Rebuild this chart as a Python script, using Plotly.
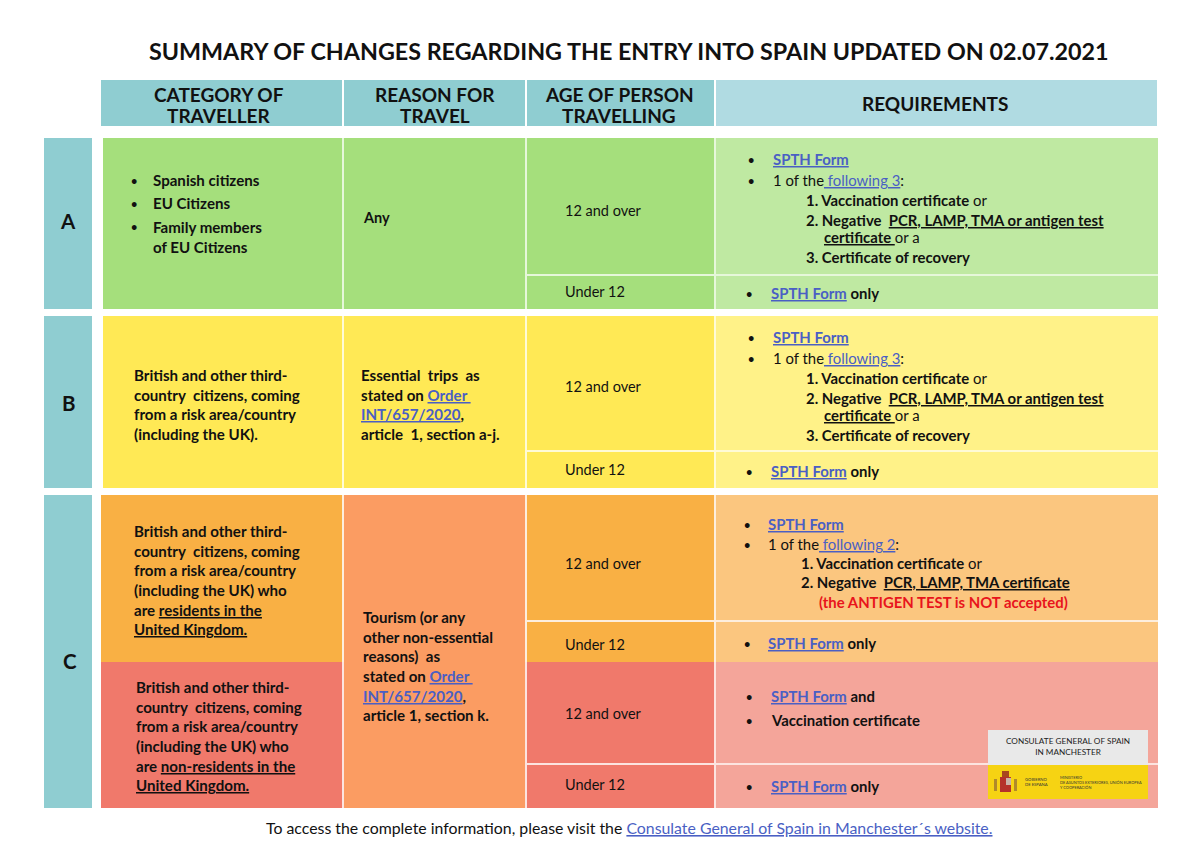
import plotly.graph_objects as go

# text of the sheet
TITLE = "SUMMARY OF CHANGES REGARDING THE ENTRY INTO SPAIN UPDATED ON 02.07.2021"
HEADERS = [["CATEGORY OF", "TRAVELLER"], ["REASON FOR", "TRAVEL"], ["AGE OF PERSON", "TRAVELLING"], ["REQUIREMENTS"]]
GROUPS = ["A", "B", "C"]
AGES = ["12 and over", "Under 12"]
A_WHO = ["Spanish citizens", "EU Citizens", "Family members", "of EU Citizens"]
B_WHO = ["British and other third-", "country  citizens, coming", "from a risk area/country", "(including the UK)."]
C1_WHO = ["British and other third-", "country  citizens, coming", "from a risk area/country", "(including the UK) who",
          "are <u>residents in the</u>", "<u>United Kingdom.</u>"]
C2_WHO = ["British and other third-", "country  citizens, coming", "from a risk area/country", "(including the UK) who",
          "are <u>non-residents in the</u>", "<u>United Kingdom.</u>"]
LINK = "#4a5fc4"
B_WHY = ["Essential  trips  as", "stated on <span style='color:%s'><u>Order </u></span>" % LINK,
         "<span style='color:%s'><u>INT/657/2020</u></span>," % LINK, "article  1, section a-j."]
C_WHY = ["Tourism (or any", "other non-essential", "reasons)  as", "stated on <span style='color:%s'><u>Order </u></span>" % LINK,
         "<span style='color:%s'><u>INT/657/2020</u></span>," % LINK, "article 1, section k."]
FORM = "<span style='color:%s'><u><b>SPTH Form</b></u></span>" % LINK
FORM_ONLY = FORM + " <b>only</b>"
OF_3 = "1 of the<span style='color:%s'><u> following 3</u></span>:" % LINK
OF_2 = "1 of the<span style='color:%s'><u> following 2</u></span>:" % LINK
VACC = "<b>1. Vaccination certificate</b> or"
NEG = "<b>2. Negative  <u>PCR, LAMP, TMA or antigen test</u></b>"
NEG2 = "<b><u>certificate </u></b>or a"
RECOV = "<b>3. Certificate of recovery</b>"
NEG_C = "<b>2. Negative  <u>PCR, LAMP, TMA certificate</u></b>"
ANTIGEN = "<b>(the ANTIGEN TEST is NOT accepted)</b>"
FOOT = "To access the complete information, please visit the "
FOOT_LINK = "Consulate General of Spain in Manchester´s website."

# colours
TEAL = "#8fcdd1"
TEAL_LIGHT = "#b0dbe2"
GREEN, GREEN_L, GREEN_T = "#a5df7c", "#bfe9a2", "#e6f7da"
YELLOW, YELLOW_L, YELLOW_T = "#ffe955", "#fff288", "#fffbd6"
ORANGE, ORANGE_L, ORANGE_T = "#f9b044", "#fbc67f", "#fdeedd"
REASON = "#fb9c62"
RED, RED_L, RED_T = "#f0796b", "#f4a59a", "#fce4e0"
FONT = "Lato"

fig = go.Figure()


def box(x0, y0, x1, y1, color):
    fig.add_shape(type="rect", x0=x0, y0=y0, x1=x1, y1=y1, fillcolor=color, line_width=0, layer="above")


def put(x, y, text, size=15.1, bold=True, color="#111111", anchor="left"):
    if bold:
        text = "<b>%s</b>" % text
    fig.add_annotation(x=x, y=y - 0.8, text=text, showarrow=False, xanchor=anchor, yanchor="middle",
                       align="center" if anchor == "center" else "left",
                       font=dict(family=FONT, size=size, color=color), borderpad=0, borderwidth=0)


def block(x, y, lines, step, size=15.1, bold=True):
    for i, line in enumerate(lines):
        put(x, y + i * step, line, size=size, bold=bold)


def bullet(x, y):
    put(x, y, "•", size=11, bold=True, anchor="center")


def req(x, y, text, size=14.9, color="#111111"):
    put(x, y, text, size=size, bold=False, color=color)


# header row
box(101, 80, 342, 126, TEAL)
box(344, 80, 525, 126, TEAL)
box(527, 80, 714, 126, TEAL)
box(716, 80, 1157, 126, TEAL_LIGHT)
for cx, ys, head in zip([219, 435, 619, 935], [[95, 116], [95, 116], [95, 116], [104]], HEADERS):
    for y, line in zip(ys, head):
        put(cx, y, line, size=19, anchor="center")

# group bars
for y0, y1, cx, cy, label in zip([138, 316, 495], [309, 488, 808], [68, 69, 70], [222, 404, 662], GROUPS):
    box(44, y0, 92, y1, TEAL)
    put(cx, cy, label, size=20.5, anchor="center")

# cells, row by row
rows = [
    (103, 138, 274, 276, 309, GREEN, GREEN, GREEN, GREEN_L, GREEN_T),
    (103, 316, 450, 452, 488, YELLOW, YELLOW, YELLOW, YELLOW_L, YELLOW_T),
    (101, 495, 620, 622, 662, ORANGE, REASON, ORANGE, ORANGE_L, ORANGE_T),
    (101, 662, 763, 765, 808, RED, REASON, RED, RED_L, RED_T),
]
for x0, y0, s0, s1, y1, c1, c2, c3, c4, tint in rows:
    box(342, y0, 1158, y1, tint)
    box(x0, y0, 342, y1, c1)
    box(344, y0, 525, y1, c2)
    box(527, y0, 714, s0, c3)
    box(527, s1, 714, y1, c3)
    box(716, y0, 1158, s0, c4)
    box(716, s1, 1158, y1, c4)

# category column
for y in [181, 204, 227]:
    bullet(134, y)
block(153, 181, A_WHO[:2], 23)
block(153, 228, A_WHO[2:], 20)
block(134, 376, B_WHO, 19.5)
block(134, 532, C1_WHO, 19.6)
block(136, 688, C2_WHO, 19.6)

# reason column
put(363, 218, "Any", size=14.5)
block(361, 376, B_WHY, 19.5)
block(363, 618, C_WHY, 19.6)

# age column
for x, y, age in [(565, 211, AGES[0]), (565, 292, AGES[1]), (565, 387, AGES[0]), (565, 470, AGES[1]),
                  (565, 564, AGES[0]), (565, 645, AGES[1]), (565, 714, AGES[0]), (565, 785, AGES[1])]:
    put(x, y, age, size=14.5, bold=False)

# requirements, group A
bullet(751, 160); req(773, 160, FORM)
bullet(751, 181); req(773, 181, OF_3)
req(806, 201, VACC)
req(806, 221, NEG)
req(824, 238, NEG2)
req(806, 258, RECOV)
bullet(749, 294); req(771, 294, FORM_ONLY)

# group B
bullet(751, 338); req(773, 338, FORM)
bullet(751, 359); req(773, 359, OF_3)
req(806, 379, VACC)
req(806, 399, NEG)
req(824, 416, NEG2)
req(806, 436, RECOV)
bullet(749, 472); req(771, 472, FORM_ONLY)

# group C
bullet(747, 525); req(768, 525, FORM)
bullet(747, 545); req(768, 545, OF_2)
req(801, 564, VACC)
req(801, 583, NEG_C)
req(819, 603, ANTIGEN, color="#e8141c")
bullet(747, 644); req(768, 644, FORM_ONLY)
bullet(749, 697); req(771, 697, FORM + " <b>and</b>")
bullet(749, 721); req(771, 721, "<b>Vaccination certificate</b>")
bullet(749, 787); req(771, 787, FORM_ONLY)

# consulate logo
box(988, 730, 1148, 765, "#e9e9e9")
box(988, 765, 1148, 799, "#f6d313")
box(1000, 777, 1011, 792, "#b5322a")
box(1006, 778, 1011, 785, "#c9b3a8")
box(1002, 771, 1009, 777, "#a8471e")
box(994, 779, 997, 791, "#b08a2a")
box(1014, 779, 1017, 791, "#b08a2a")
fig.add_annotation(x=1068, y=746, text="CONSULATE GENERAL OF SPAIN<br>IN MANCHESTER", showarrow=False, xanchor="center", yanchor="middle",
                   font=dict(family=FONT, size=8.2, color="#222222"))
fig.add_annotation(x=1023, y=782, text="GOBIERNO<br>DE ESPAÑA", showarrow=False, xanchor="left", yanchor="middle", align="left",
                   font=dict(family=FONT, size=4.2, color="#333333"))
fig.add_annotation(x=1058, y=782, text="MINISTERIO<br>DE ASUNTOS EXTERIORES, UNIÓN EUROPEA<br>Y COOPERACIÓN", showarrow=False, xanchor="left",
                   yanchor="middle", align="left", font=dict(family=FONT, size=3.9, color="#333333"))

# title and footer
put(629, 52, TITLE, size=23.3, anchor="center")
put(266, 828, FOOT + "<span style='color:%s'><u>%s</u></span>" % (LINK, FOOT_LINK), size=15.85, bold=False)

fig.update_xaxes(range=[0, 1200], visible=False, fixedrange=True)
fig.update_yaxes(range=[848, 0], visible=False, fixedrange=True)
fig.update_layout(width=1200, height=848, margin=dict(l=0, r=0, t=0, b=0), paper_bgcolor="white", plot_bgcolor="white", showlegend=False)

fig.write_html("out.html", config={"displayModeBar": False}, post_script="document.body.style.margin='0';")
